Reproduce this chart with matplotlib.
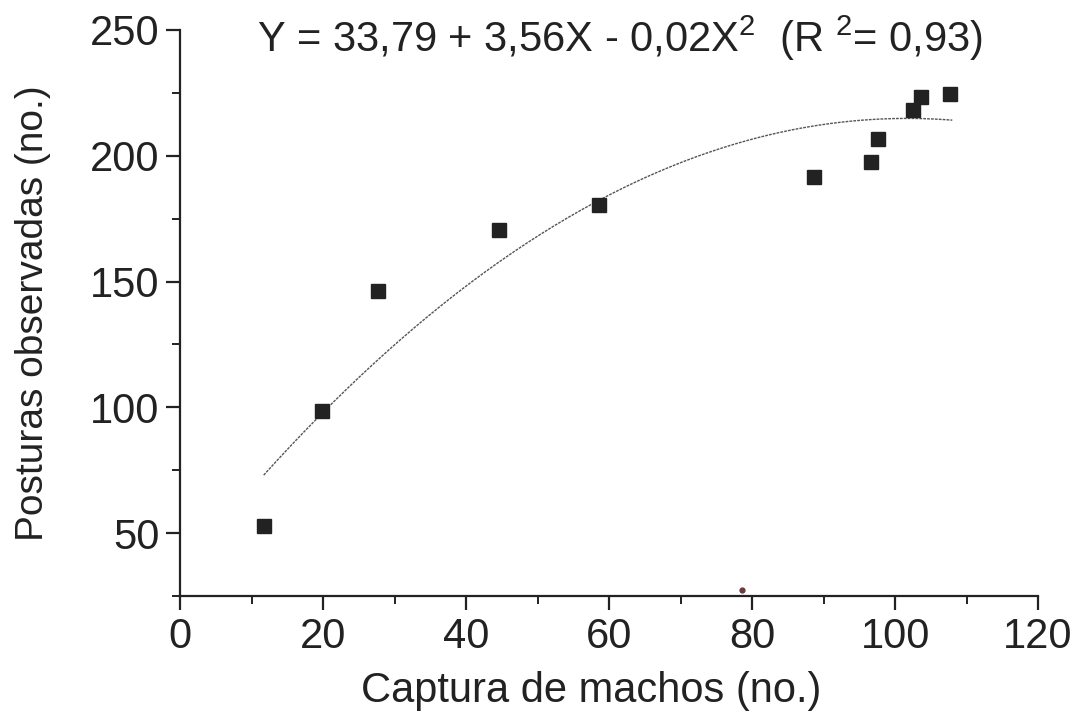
import numpy as np
import matplotlib
matplotlib.use("Agg")
from matplotlib import pyplot as plt
from matplotlib.ticker import MultipleLocator

plt.rcParams['font.family'] = ['Liberation Sans', 'DejaVu Sans']
plt.rcParams['mathtext.fontset'] = 'custom'
plt.rcParams['mathtext.rm'] = 'Liberation Sans'
plt.rcParams['mathtext.it'] = 'Liberation Sans'

# observed points
capturas = [11.7, 19.9, 27.7, 44.6, 58.6, 88.7, 96.6, 97.6, 102.5, 103.6, 107.7]
posturas = [53.0, 98.6, 146.3, 170.5, 180.4, 191.6, 197.5, 206.7, 218.2, 223.4, 224.6]

# fitted quadratic (intercept, linear, quadratic) and its x range
coefs = [33.79, 3.56, -0.0175]
fitRange = (11.7, 108.0)

eqText = r"Y = 33,79 + 3,56X - 0,02X$^2$  (R $^2$= 0,93)"

fig = plt.figure(figsize=(10.78, 7.22), dpi=100)
ax = fig.add_axes([0.167, 0.1745, 0.796, 0.784])

xs = np.linspace(fitRange[0], fitRange[1], 200)
ys = coefs[0] + coefs[1]*xs + coefs[2]*xs**2
ax.plot(xs, ys, color='#555555', lw=1.0, linestyle=(0, (2, 0.8)))

ax.plot(capturas, posturas, 's', color='#222222', markersize=9.5, linestyle='none')
# small stray dot near the x axis
ax.plot([78.6], [27.3], 'o', color='#6b3a3a', markersize=3.5)

ax.set_xlim(0, 120)
ax.set_ylim(25, 250)
ax.spines['top'].set_visible(False)
ax.spines['right'].set_visible(False)
for s in ['left', 'bottom']:
    ax.spines[s].set_linewidth(1.6)
    ax.spines[s].set_color('#222222')

ax.xaxis.set_major_locator(MultipleLocator(20))
ax.xaxis.set_minor_locator(MultipleLocator(10))
ax.yaxis.set_major_locator(MultipleLocator(50))
ax.yaxis.set_minor_locator(MultipleLocator(25))
ax.set_yticks([50, 100, 150, 200, 250])
ax.tick_params(which='major', direction='out', length=10, width=1.6, labelsize=30, colors='#222222', pad=5)
ax.tick_params(which='minor', direction='out', length=6, width=1.4, colors='#222222')

ax.set_xlabel("Captura de machos (no.)", fontsize=30, color='#222222')
ax.set_ylabel("Posturas observadas (no.)", fontsize=28, color='#222222')
ax.xaxis.set_label_coords(0.479, -0.133)
ax.yaxis.set_label_coords(-0.150, 0.50)

ax.text(0.513, 0.985, eqText, transform=ax.transAxes, ha='center', va='center',
        fontsize=30, color='#222222')

fig.savefig("out.png", dpi=100)
